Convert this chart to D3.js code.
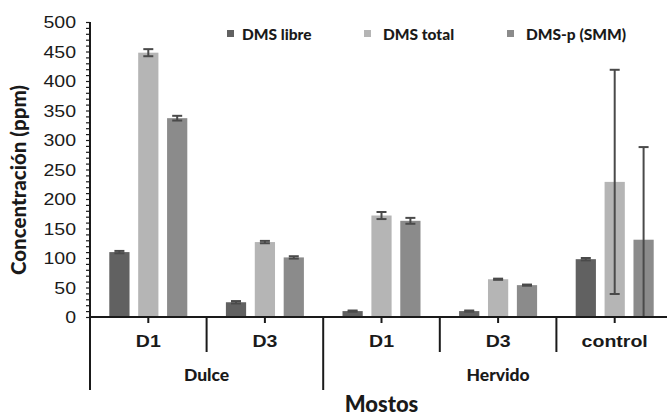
<!DOCTYPE html>
<html>
<head>
<meta charset="utf-8">
<script src="https://cdn.jsdelivr.net/npm/d3@7/dist/d3.min.js"></script>
<style>
  html, body { margin: 0; padding: 0; background: #fff; }
  svg { display: block; }
</style>
</head>
<body>
<svg id="chart" width="667" height="416"></svg>
<script>
// Grouped bars: DMS concentrations per must sample
const groups = ["Dulce", "Dulce", "Hervido", "Hervido", "Hervido"];
const categories = ["D1", "D3", "D1", "D3", "control"];
const seriesNames = ["DMS libre", "DMS total", "DMS-p (SMM)"];
const dmsLibre = [110, 25, 10, 10, 98];
const dmsTotal = [448, 127, 172, 64, 229];
const dmsP = [337, 101, 163, 54, 131];
const errLibre = [2, 2, 1, 1, 2];
const errTotal = [6, 2, 6, 1, 190];
const errP = [4, 2, 5, 1, 157];
const yTicks = [0, 50, 100, 150, 200, 250, 300, 350, 400, 450, 500];

const seriesColors = ["#616161", "#b5b5b5", "#8b8b8b"];
const values = [dmsLibre, dmsTotal, dmsP];
const errors = [errLibre, errTotal, errP];

const svg = d3.select("#chart");
const plotLeft = 90, plotRight = 673, plotTop = 22, plotBottom = 317;
const ink = "#1a1a1a";
const titleFont = "Lato, sans-serif";

const x = d3.scaleBand().domain(d3.range(categories.length)).range([plotLeft, plotRight]);
const xs = d3.scaleBand().domain(d3.range(3)).range([-39, 39]).paddingInner(0.3);
const y = d3.scaleLinear().domain([0, 500]).range([plotBottom, plotTop]);

// Bars
values.forEach((vals, s) => {
  svg.append("g").selectAll("rect").data(vals).join("rect")
    .attr("x", (d, i) => x(i) + x.bandwidth() / 2 + xs(s))
    .attr("width", xs.bandwidth())
    .attr("y", d => y(d))
    .attr("height", d => y(0) - y(d))
    .attr("fill", seriesColors[s]);
});

// Error bars (clipped at the baseline)
values.forEach((vals, s) => {
  const g = svg.append("g").attr("stroke", "#4a4a4a").attr("stroke-width", 2);
  vals.forEach((v, i) => {
    const cx = x(i) + x.bandwidth() / 2 + xs(s) + xs.bandwidth() / 2;
    const hi = v + errors[s][i], lo = Math.max(0, v - errors[s][i]);
    g.append("line").attr("x1", cx).attr("x2", cx).attr("y1", y(hi)).attr("y2", y(lo));
    g.append("line").attr("x1", cx - 5).attr("x2", cx + 5).attr("y1", y(hi)).attr("y2", y(hi));
    if (v - errors[s][i] >= 0)
      g.append("line").attr("x1", cx - 5).attr("x2", cx + 5).attr("y1", y(lo)).attr("y2", y(lo));
  });
});

// Y axis with minor ticks
const yAxis = svg.append("g").attr("transform", `translate(${plotLeft},0)`);
yAxis.call(d3.axisLeft(y).tickValues(d3.range(0, 501, 10)).tickSize(4).tickFormat(""))
  .call(g => g.select(".domain").remove());
yAxis.selectAll(".tick line").attr("stroke", ink).attr("stroke-width", 1.2);
yAxis.append("line").attr("x1", 0).attr("x2", 0).attr("y1", plotTop).attr("y2", plotBottom)
  .attr("stroke", ink).attr("stroke-width", 2);
yAxis.selectAll(".lbl").data(yTicks).join("text")
  .attr("class", "lbl")
  .attr("transform", d => `translate(-14,${y(d)}) scale(1.15,1)`)
  .attr("text-anchor", "end").attr("dy", "0.36em")
  .attr("font-family", "Liberation Sans, Arial, sans-serif").attr("font-size", 17)
  .attr("fill", ink).text(d => d);

// X axis baseline and ticks
svg.append("line").attr("x1", plotLeft).attr("x2", plotRight).attr("y1", plotBottom).attr("y2", plotBottom)
  .attr("stroke", ink).attr("stroke-width", 2);
const xAxis = svg.append("g").attr("transform", `translate(0,${plotBottom})`);
xAxis.call(d3.axisBottom(x).tickSize(6).tickFormat(""))
  .call(g => g.select(".domain").remove());
xAxis.selectAll(".tick line").attr("stroke", ink).attr("stroke-width", 2);

// Category separators
categories.forEach((c, i) => {
  const xb = x(i);
  const long = i === 0 || groups[i] !== groups[i - 1];
  svg.append("line").attr("x1", xb).attr("x2", xb).attr("y1", plotBottom).attr("y2", long ? 390 : 352)
    .attr("stroke", ink).attr("stroke-width", 2);
});
svg.append("line").attr("x1", plotRight).attr("x2", plotRight).attr("y1", plotBottom).attr("y2", 390)
  .attr("stroke", ink).attr("stroke-width", 2);

// Category labels
svg.append("g").selectAll("text").data(categories).join("text")
  .attr("transform", (d, i) => `translate(${x(i) + x.bandwidth() / 2},${341})scale(1.15,1)`)
  .attr("text-anchor", "middle").attr("dy", "0.36em")
  .attr("font-family", "Liberation Sans, Arial, sans-serif").attr("font-weight", "bold")
  .attr("font-size", 17).attr("fill", ink).text(d => d);

// Group labels
const groupNames = Array.from(new Set(groups));
groupNames.forEach(gn => {
  const idx = groups.map((g, i) => g === gn ? i : -1).filter(i => i >= 0);
  const x0 = x(idx[0]), x1 = x(idx[idx.length - 1]) + x.bandwidth();
  svg.append("text").attr("x", (x0 + x1) / 2).attr("y", 375).attr("dy", "0.36em")
    .attr("text-anchor", "middle").attr("font-family", titleFont).attr("font-weight", 900)
    .attr("font-size", 17.5).attr("fill", ink).text(gn);
});

// Axis titles
svg.append("text").attr("x", (plotLeft + plotRight) / 2).attr("y", 412)
  .attr("text-anchor", "middle").attr("font-family", titleFont).attr("font-weight", 900)
  .attr("font-size", 22).attr("fill", ink).text("Mostos");
svg.append("text").attr("transform", `translate(19,180) rotate(-90)`)
  .attr("dy", "0.36em").attr("text-anchor", "middle")
  .attr("font-family", titleFont).attr("font-weight", 900)
  .attr("font-size", 20.5).attr("fill", ink).text("Concentración (ppm)");

// Legend
const legendX = [227, 364, 507];
seriesNames.forEach((n, s) => {
  const g = svg.append("g").attr("transform", `translate(${legendX[s]},34)`);
  g.append("rect").attr("x", 0).attr("y", -4).attr("width", 7).attr("height", 7).attr("fill", seriesColors[s]);
  g.append("text").attr("x", s === 0 ? 15 : 19).attr("y", 0).attr("dy", "0.36em")
    .attr("font-family", titleFont).attr("font-weight", 900)
    .attr("font-size", 15.5).attr("fill", ink).text(n);
});
</script>
</body>
</html>
